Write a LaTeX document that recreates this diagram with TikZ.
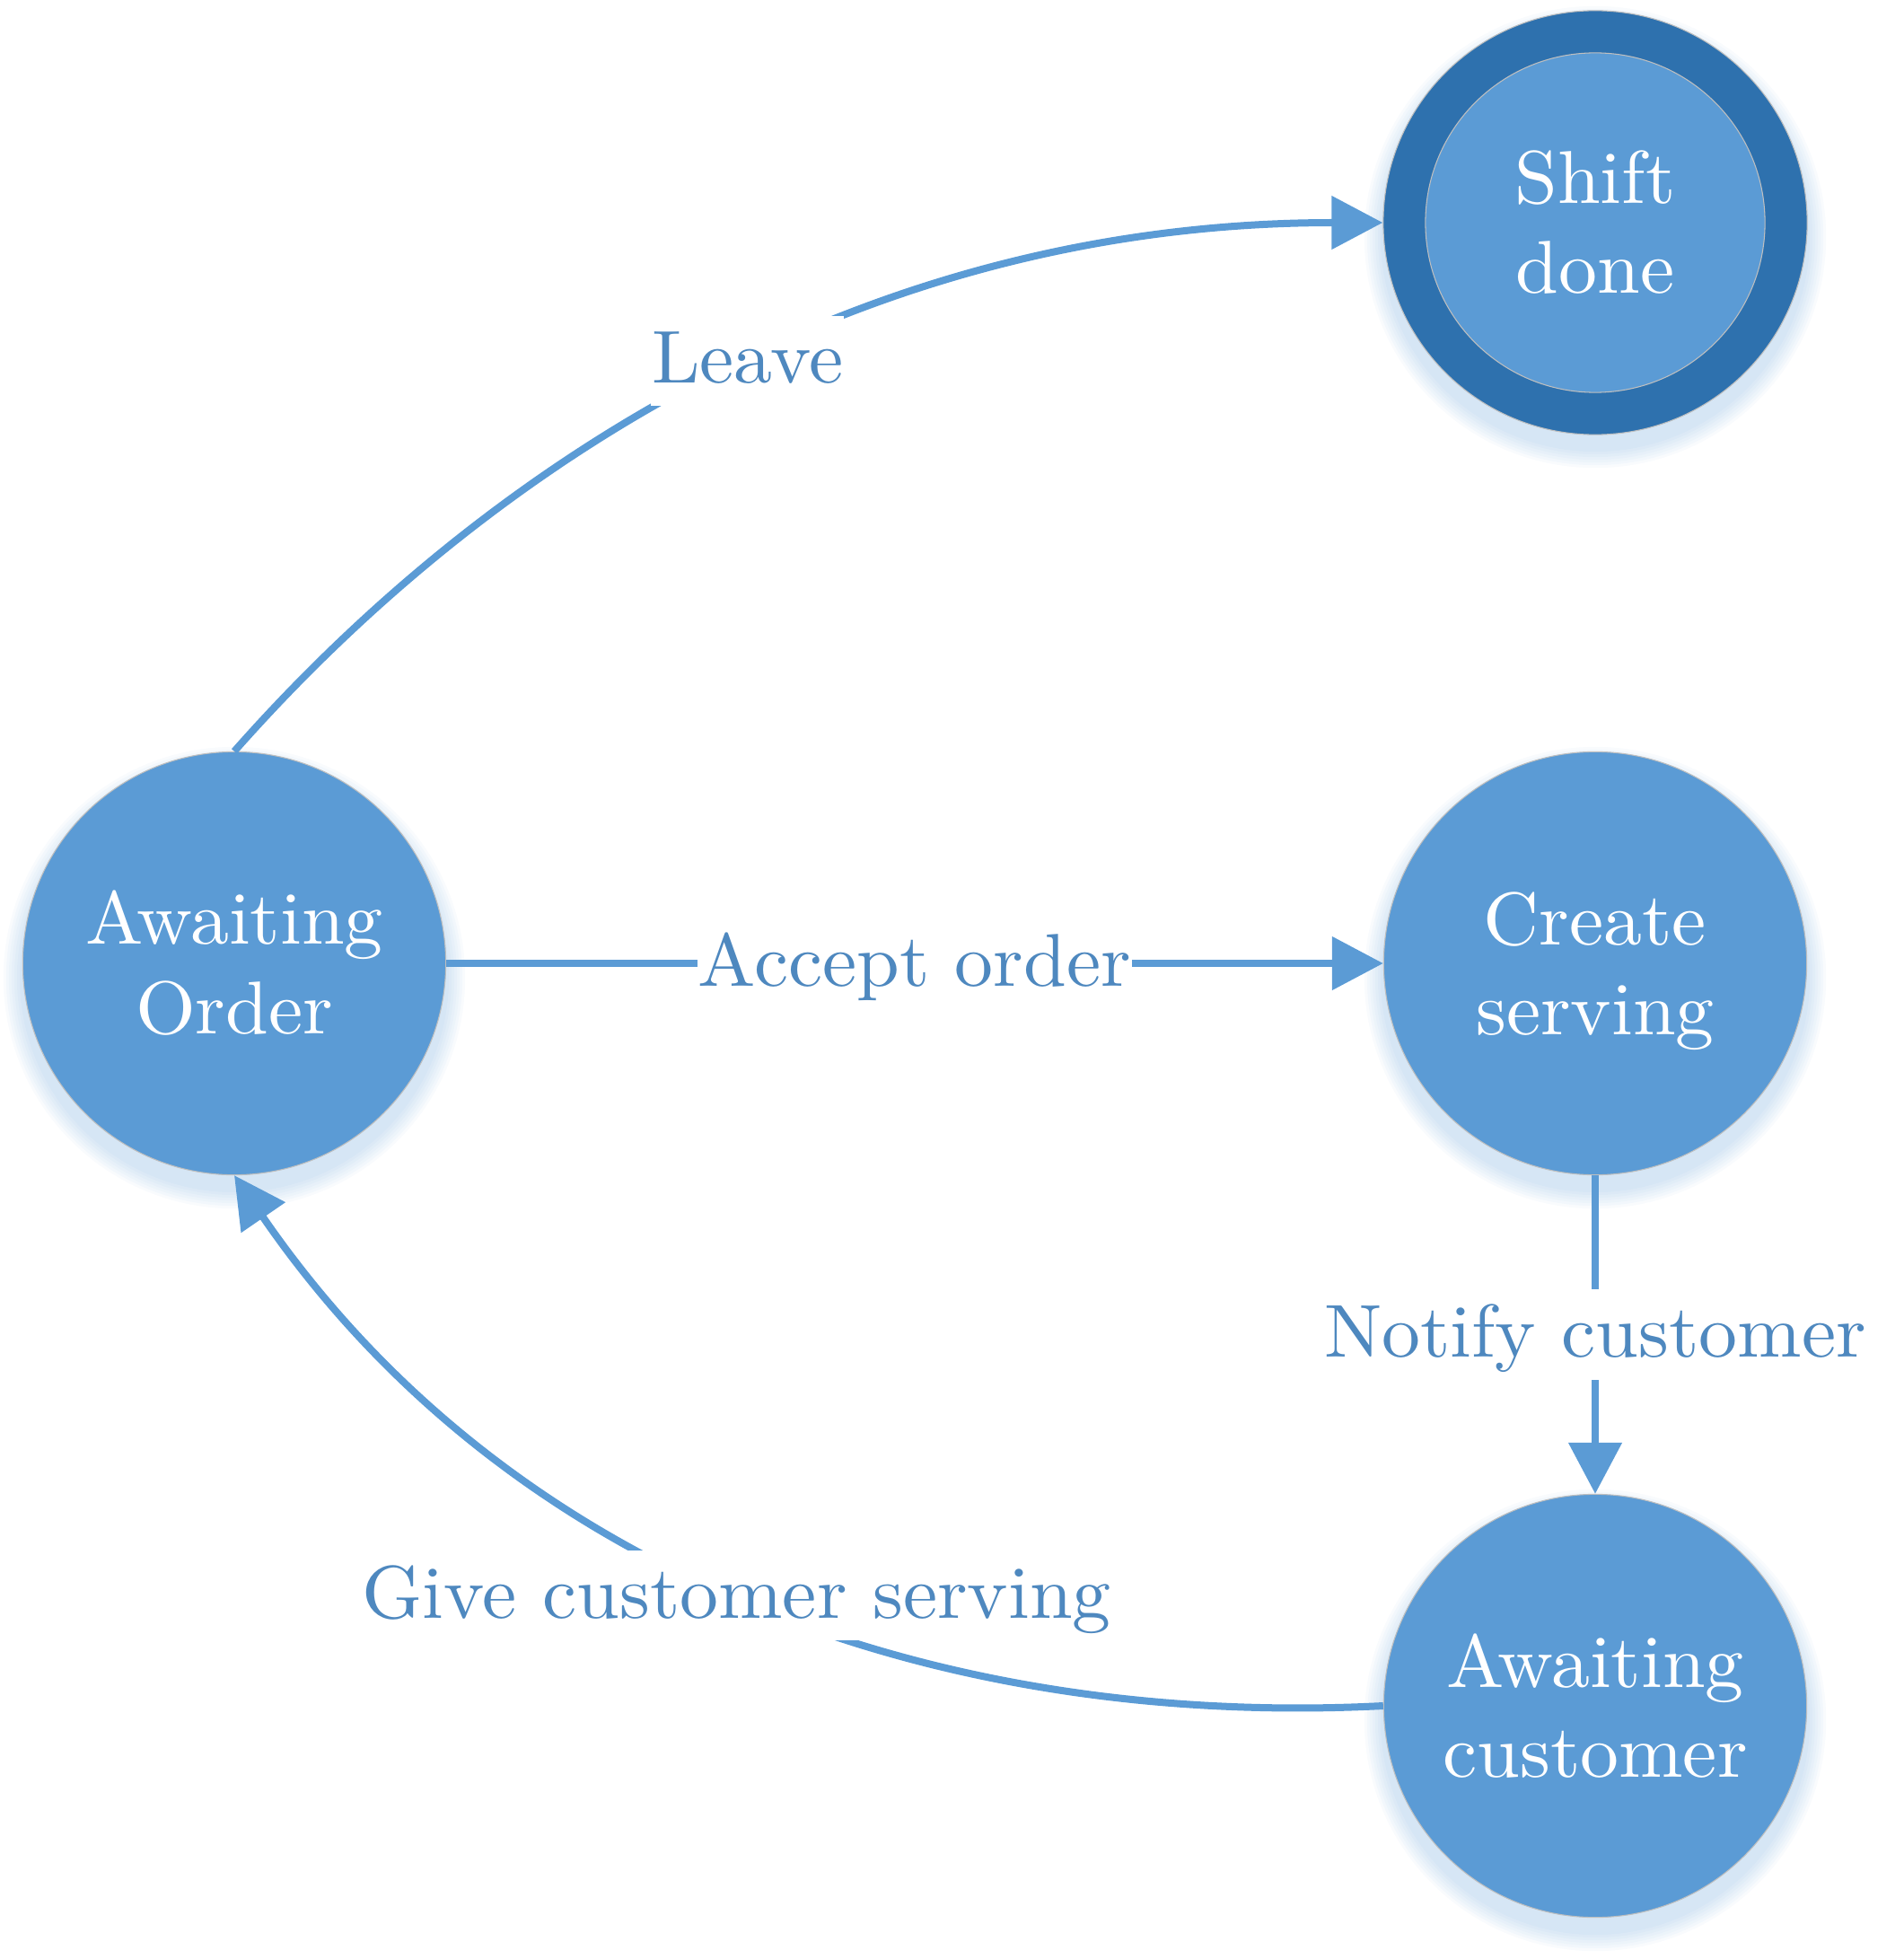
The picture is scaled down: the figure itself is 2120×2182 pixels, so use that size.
\documentclass[tikz,border=0pt]{standalone}
\usepackage{fontspec}
\newfontfamily\lmten[FakeStretch=1.03]{lmroman10-regular.otf}
\usetikzlibrary{arrows.meta}
\definecolor{nodeblue}{HTML}{5B9BD5}
\definecolor{ringblue}{HTML}{2E71AE}
\definecolor{lineblue}{HTML}{5B9BD5}
\definecolor{labelblue}{HTML}{4E88BF}
\definecolor{rimgray}{HTML}{BFBFBF}
\begin{document}
\begin{tikzpicture}[x=0.01cm,y=-0.01cm,
  bigfont/.style={font=\lmten\fontsize{23.7}{28.45}\selectfont},
  statenode/.style={circle, fill=nodeblue, draw=rimgray, line width=0.3pt,
    minimum size=4.71cm, inner sep=0pt, text=white, align=center, bigfont},
  outerring/.style={circle, fill=ringblue, draw=rimgray, line width=0.3pt,
    minimum size=4.72cm, inner sep=0pt},
  innerdisc/.style={circle, fill=nodeblue, draw=rimgray, line width=0.3pt,
    minimum size=3.78cm, inner sep=0pt, text=white, align=center, bigfont},
  conn/.style={draw=lineblue, line width=0.08cm,
    -{Triangle[length=0.57cm,width=0.58cm]}},
  lbl/.style={fill=white, text=labelblue, bigfont, inner xsep=0.01cm,
    inner ysep=0pt, text height=0.75cm, text depth=0.25cm},
  glow/.style={fill=nodeblue, opacity=0.04}
]
\useasboundingbox (0,0) rectangle (2120,2182);

% soft shadows below the circles
\foreach \cx/\cy in {261/1073, 1777/1073, 1777/1900, 1777/248} {
  \foreach \k in {1,...,7} {
    \fill[glow] (\cx,\cy+16) circle [radius={2.36cm+\k*0.03cm}];
  }
}

% states
\node[statenode] (ao) at (261,1073) {Awaiting\\Order};
\node[statenode] (cs) at (1777,1073) {Create\\\raisebox{0pt}[\height][0pt]{serving}};
\node[statenode] (ac) at (1777,1900) {Awaiting\\customer};
\node[outerring] (sd) at (1777,248) {};
\node[innerdisc] (sdi) at (sd.center) {Shift\\done};

% transitions
\draw[conn] (ao) -- node[lbl] {Accept order} (cs);
\draw[conn] (cs) -- node[lbl] {Notify customer} (ac);
\draw[conn] (ao.north) .. controls (525,538) and (940,248) .. (sd)
  node[lbl, pos=0.545] {Leave};
\draw[conn] (ac.west) .. controls (1052,1925) and (571,1760) .. (ao.south)
  node[lbl, pos=0.51] {Give customer serving};
\end{tikzpicture}
\end{document}
